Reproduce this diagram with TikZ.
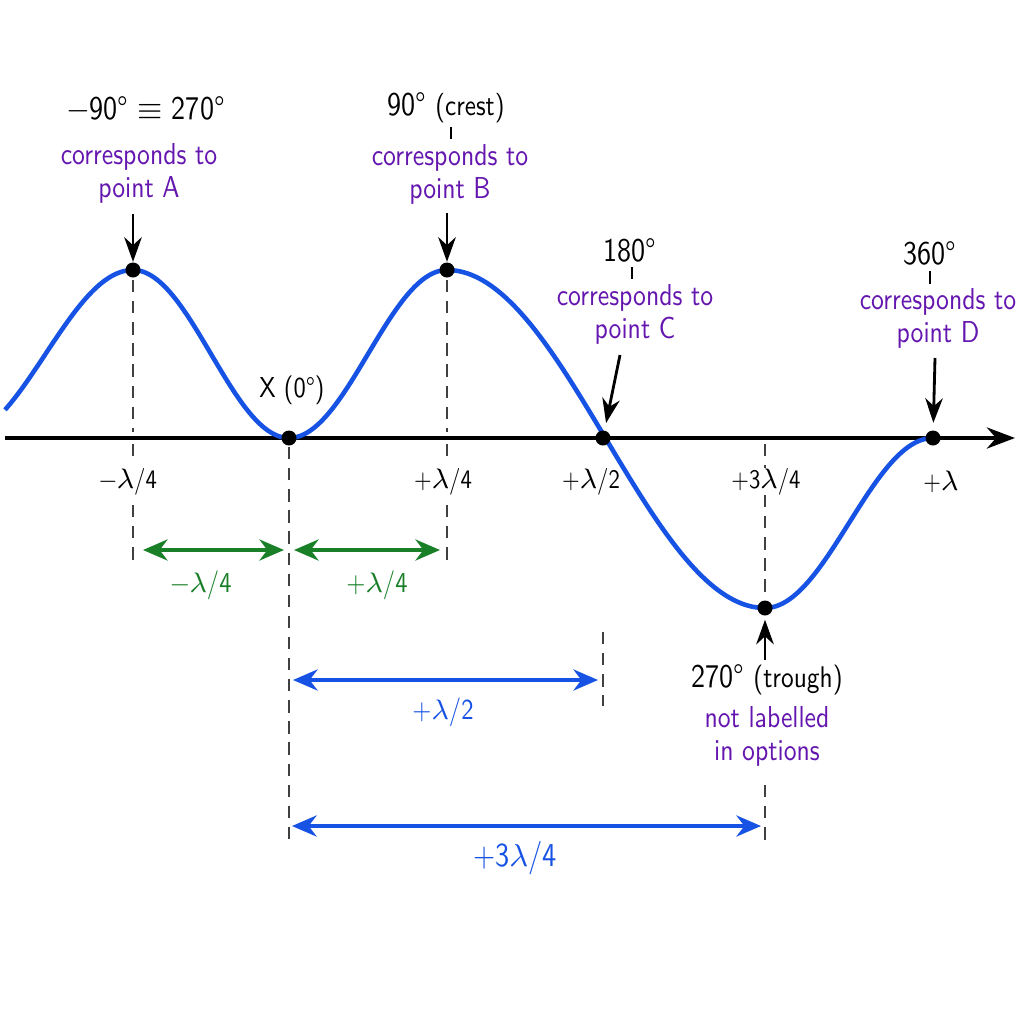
\documentclass[tikz,border=0pt]{standalone}
\usepackage{fontspec}
\setmainfont{lmsans10-regular.otf}[FakeStretch=0.85]
\usetikzlibrary{arrows.meta}
\definecolor{wavec}{RGB}{22,82,228}
\definecolor{purp}{RGB}{100,22,175}
\definecolor{grn}{RGB}{25,128,40}
\begin{document}
\begin{tikzpicture}[x=0.01cm,y=-0.01cm,
  dot/.style={circle,fill=black,inner sep=0pt,minimum size=0.15cm},
  big/.style={font=\fontsize{9.4}{11}\selectfont},
  purplab/.style={text=purp,align=center,font=\fontsize{8.6}{9.4}\selectfont},
  axlab/.style={font=\fontsize{7.6}{10}\selectfont},
  guide/.style={draw=black!75,line width=0.5pt,dash pattern=on 3.5pt off 2.5pt},
  ptr/.style={draw=black,line width=0.8pt,-{Stealth[length=7pt,width=5pt]}},
  tickmark/.style={draw=black,line width=0.8pt},
  dimg/.style={draw=grn,line width=1pt,{Stealth[length=7pt,width=6pt]}-{Stealth[length=7pt,width=6pt]}},
  dimb/.style={draw=wavec,line width=1pt,{Stealth[length=7pt,width=6pt]}-{Stealth[length=7pt,width=6pt]}},
  dimlab/.style={font=\fontsize{8.2}{10}\selectfont}
]
\useasboundingbox (0,0) rectangle (1024,1024);
\fill[white] (0,0) rectangle (1024,1024);

% axis
\coordinate (ax0) at (5,438);
\coordinate (ax1) at (1015,438);
\draw[line width=1.1pt,-{Stealth[length=8pt,width=6pt]}] (ax0) -- (ax1);

% guides
\coordinate (gA1) at (133,280); \coordinate (gA2) at (133,432);
\coordinate (gA3) at (133,444); \coordinate (gA4) at (133,462);
\coordinate (gA5) at (133,505); \coordinate (gA6) at (133,565);
\draw[guide] (gA1) -- (gA2); \draw[guide] (gA3) -- (gA4); \draw[guide] (gA5) -- (gA6);
\coordinate (gB1) at (447,280); \coordinate (gB2) at (447,432);
\coordinate (gB3) at (447,444); \coordinate (gB4) at (447,462);
\coordinate (gB5) at (447,505); \coordinate (gB6) at (447,565);
\draw[guide] (gB1) -- (gB2); \draw[guide] (gB3) -- (gB4); \draw[guide] (gB5) -- (gB6);
\coordinate (gX1) at (289,447); \coordinate (gX2) at (289,842);
\draw[guide] (gX1) -- (gX2);
\coordinate (gC1) at (603,632); \coordinate (gC2) at (603,706);
\draw[guide] (gC1) -- (gC2);
\coordinate (gT1) at (765,444); \coordinate (gT2) at (765,468);
\coordinate (gT3) at (765,495); \coordinate (gT4) at (765,600);
\coordinate (gT5) at (765,785); \coordinate (gT6) at (765,842);
\draw[guide] (gT1) -- (gT2); \draw[guide] (gT3) -- (gT4); \draw[guide] (gT5) -- (gT6);

% wave
\draw[wavec,line width=1.3pt,line join=round]
  plot[domain=5:133,samples=60] (\x,{354-84*cos((\x-133)/175*180)})
  -- plot[domain=133:289,samples=60] (\x,{354-84*cos((\x-133)/156*180)})
  -- plot[domain=289:447,samples=60] (\x,{354+84*cos((\x-289)/158*180)})
  -- plot[domain=447:765,samples=100] (\x,{439-169*cos((\x-447)/318*180)})
  -- plot[domain=765:933,samples=60] (\x,{608-85*(1-cos((\x-765)/168*180))});

% dots
\node[dot] (A) at (133,270) {};
\node[dot] (X) at (289,438) {};
\node[dot] (B) at (447,270) {};
\node[dot] (C) at (603,438) {};
\node[dot] (T) at (765,608) {};
\node[dot] (D) at (933,438) {};

% point A
\node[big] (lA) at (146,108) {−90° $\equiv$ 270°};
\node[purplab] (pA) at (139,173) {corresponds to\\point A};
\coordinate (aA) at (133,214);
\draw[ptr] (aA) -- (A);

% point B
\node[big] (lB) at (446,108) {90° {\fontsize{8.4}{10}\selectfont (crest)}};
\coordinate (tB1) at (451,127); \coordinate (tB2) at (451,139);
\draw[tickmark] (tB1) -- (tB2);
\node[purplab] (pB) at (450,174) {corresponds to\\point B};
\coordinate (aB) at (447,213);
\draw[ptr] (aB) -- (B);

% point C
\node[big] (lC) at (630,250) {180°};
\coordinate (tC1) at (632,267); \coordinate (tC2) at (632,279);
\draw[tickmark] (tC1) -- (tC2);
\node[purplab] (pC) at (635,314) {corresponds to\\point C};
\coordinate (aC) at (620,355);
\draw[ptr,shorten >=2pt] (aC) -- (C);

% point D
\node[big] (lD) at (930,253) {360°};
\coordinate (tD1) at (930,271); \coordinate (tD2) at (930,284);
\draw[tickmark] (tD1) -- (tD2);
\node[purplab] (pD) at (938,318) {corresponds to\\point D};
\coordinate (aD) at (935,358);
\draw[ptr,shorten >=2pt] (aD) -- (D);

% X
\node[font=\fontsize{8.2}{10}\selectfont] (lX) at (292,390) {X (0°)};

% trough
\coordinate (aT) at (765,660);
\draw[ptr,shorten >=1pt] (aT) -- (T);
\node[big] (lT) at (767,680) {270° {\fontsize{8.5}{10}\selectfont (trough)}};
\node[purplab] (pT) at (767,736) {not labelled\\in options};

% axis labels
\node[axlab] (xl1) at (128,482) {−$\lambda$/4};
\node[axlab] (xl2) at (443,482) {+$\lambda$/4};
\node[axlab] (xl3) at (591,482) {+$\lambda$/2};
\node[axlab] (xl4) at (766,482) {+3$\lambda$/4};
\node[axlab] (xl5) at (941,482) {+$\lambda$};

% green dimensions
\coordinate (g1a) at (143,550); \coordinate (g1b) at (284,550);
\coordinate (g2a) at (294,550); \coordinate (g2b) at (440,550);
\draw[dimg] (g1a) -- (g1b);
\draw[dimg] (g2a) -- (g2b);
\node[dimlab,text=grn] (gl1) at (201,585) {−$\lambda$/4};
\node[dimlab,text=grn] (gl2) at (377,585) {+$\lambda$/4};

% blue dimensions
\coordinate (b1a) at (293,680); \coordinate (b1b) at (598,680);
\draw[dimb] (b1a) -- (b1b);
\node[dimlab,text=wavec] (bl1) at (443,712) {+$\lambda$/2};
\coordinate (b2a) at (292,826); \coordinate (b2b) at (761,826);
\draw[dimb] (b2a) -- (b2b);
\node[dimlab,text=wavec,font=\fontsize{9.5}{11}\selectfont] (bl2) at (515,858) {+3$\lambda$/4};
\end{tikzpicture}
\end{document}
